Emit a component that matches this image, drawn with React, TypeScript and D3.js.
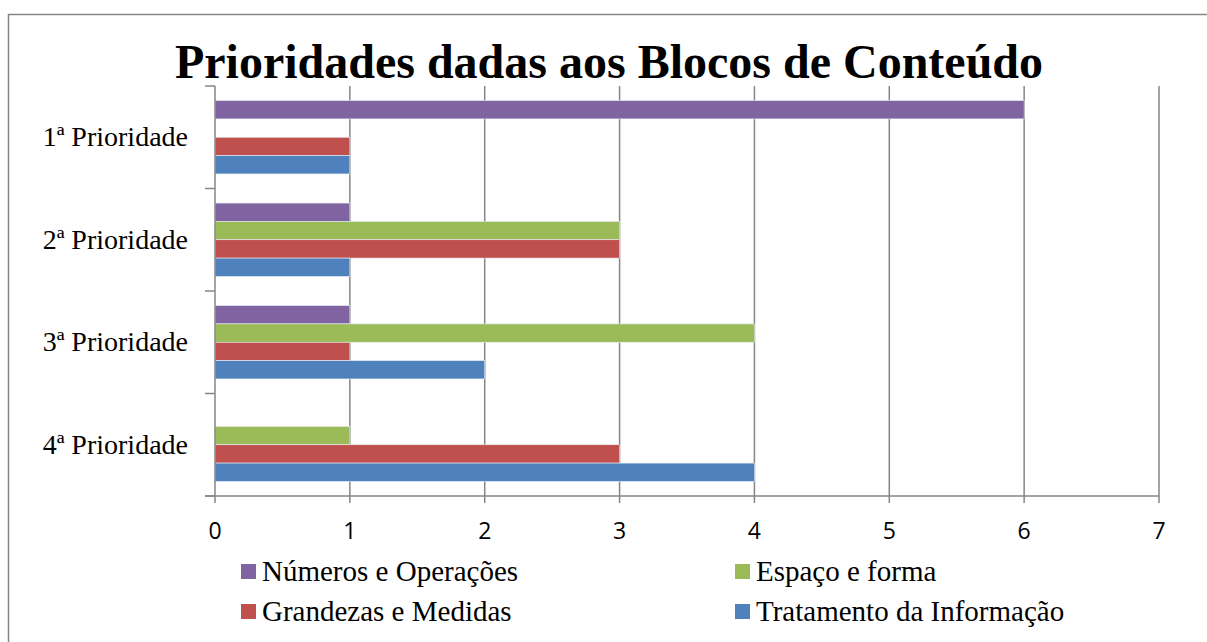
import * as d3 from "d3";

const categories = ["1ª Prioridade", "2ª Prioridade", "3ª Prioridade", "4ª Prioridade"];
const seriesNames = [
  "Números e Operações",
  "Espaço e forma",
  "Grandezas e Medidas",
  "Tratamento da Informação",
];
const seriesColors = ["#8064A2", "#9BBB59", "#C0504D", "#4F81BD"];
// values per series, in category order
const numeros = [6, 1, 1, 0];
const espaco = [0, 3, 4, 1];
const grandezas = [1, 3, 1, 3];
const tratamento = [1, 1, 2, 4];
const seriesValues = [numeros, espaco, grandezas, tratamento];
const xTicks = [0, 1, 2, 3, 4, 5, 6, 7];

export default function App() {
  const width = 1207;
  const height = 642;
  const left = 215;
  const right = 1159;
  const top = 86;
  const bottom = 496;

  const x = d3.scaleLinear().domain([0, 7]).range([left, right]);
  const y = d3
    .scaleBand<string>()
    .domain(categories)
    .range([top, bottom])
    .paddingInner(0.284)
    .paddingOuter(0.142);
  const ys = d3
    .scaleBand<string>()
    .domain(seriesNames)
    .range([0, y.bandwidth()]);
  const step = y.step();
  const bounds = d3.range(categories.length + 1).map((i) => top + i * step);
  const grid = "#868686";
  const serif = "'Liberation Serif', 'Times New Roman', serif";

  return (
    <svg
      width={width}
      height={height}
      style={{ position: "absolute", left: 0, top: 0, background: "#fff" }}
    >
      <rect x={8.5} y={14.5} width={1210} height={700} fill="#fff" stroke={grid} strokeWidth={1.5} />
      <text x={609} y={78} textAnchor="middle" fontFamily={serif} fontWeight="bold" fontSize={48}>
        Prioridades dadas aos Blocos de Conteúdo
      </text>

      {/* gridlines */}
      <g stroke={grid} strokeWidth={1.5}>
        {xTicks.slice(1).map((t) => (
          <line key={t} x1={x(t)} x2={x(t)} y1={top} y2={bottom} />
        ))}
      </g>

      {/* bars */}
      {seriesValues.map((vals, si) => (
        <g key={si} fill={seriesColors[si]}>
          {categories.map((c, ci) =>
            vals[ci] > 0 ? (
              <rect
                key={c}
                x={x(0)}
                y={(y(c) ?? 0) + (ys(seriesNames[si]) ?? 0)}
                width={x(vals[ci]) - x(0)}
                height={ys.bandwidth()}
                stroke="#e8eef6"
                strokeWidth={0.6}
              />
            ) : null
          )}
        </g>
      ))}

      {/* axes */}
      <g stroke={grid} strokeWidth={1.5}>
        <line x1={left} x2={left} y1={top} y2={bottom} />
        <line x1={205} x2={right} y1={bottom} y2={bottom} />
        {bounds.map((b, i) => (
          <line key={i} x1={205} x2={left} y1={b} y2={b} />
        ))}
        {xTicks.map((t) => (
          <line key={t} x1={x(t)} x2={x(t)} y1={bottom} y2={bottom + 7} />
        ))}
      </g>

      <g fontFamily="'Open Sans', 'Noto Sans', sans-serif" fontSize={23} textAnchor="middle">
        {xTicks.map((t) => (
          <text key={t} x={x(t)} y={538.5}>
            {t}
          </text>
        ))}
      </g>

      <g fontFamily={serif} fontSize={28} textAnchor="end">
        {categories.map((c) => (
          <text key={c} x={188} y={(y(c) ?? 0) + y.bandwidth() / 2 + 9}>
            {c}
          </text>
        ))}
      </g>

      {/* legend */}
      <g fontFamily={serif} fontSize={29}>
        {seriesNames.map((s, i) => {
          const col = i % 2;
          const row = Math.floor(i / 2);
          const lx = col === 0 ? 241 : 735;
          const ly = 564 + row * 40;
          return (
            <g key={s}>
              <rect x={lx} y={ly} width={15} height={15} fill={seriesColors[i]} />
              <text x={lx + 21} y={ly + 17}>
                {s}
              </text>
            </g>
          );
        })}
      </g>
    </svg>
  );
}
